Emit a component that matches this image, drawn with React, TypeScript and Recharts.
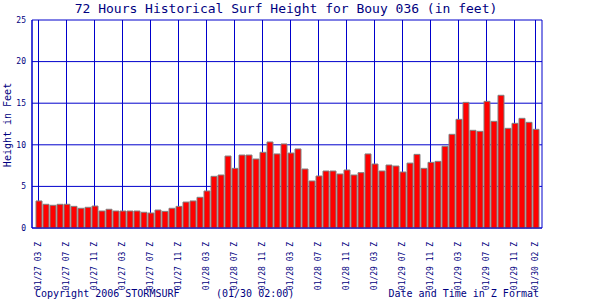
import { BarChart, Bar, XAxis, YAxis, CartesianGrid } from "recharts";

const hours = [
  "01/27 03", "01/27 04", "01/27 05", "01/27 06", "01/27 07", "01/27 08", "01/27 09",
  "01/27 10", "01/27 11", "01/27 12", "01/27 13", "01/27 14", "01/27 15", "01/27 16",
  "01/27 17", "01/27 18", "01/27 19", "01/27 20", "01/27 21", "01/27 22", "01/27 23",
  "01/28 00", "01/28 01", "01/28 02", "01/28 03", "01/28 04", "01/28 05", "01/28 06",
  "01/28 07", "01/28 08", "01/28 09", "01/28 10", "01/28 11", "01/28 12", "01/28 13",
  "01/28 14", "01/28 15", "01/28 16", "01/28 17", "01/28 18", "01/28 19", "01/28 20",
  "01/28 21", "01/28 22", "01/28 23",
  "01/29 00", "01/29 01", "01/29 02", "01/29 03", "01/29 04", "01/29 05", "01/29 06",
  "01/29 07", "01/29 08", "01/29 09", "01/29 10", "01/29 11", "01/29 12", "01/29 13",
  "01/29 14", "01/29 15", "01/29 16", "01/29 17", "01/29 18", "01/29 19", "01/29 20",
  "01/29 21", "01/29 22", "01/29 23",
  "01/30 00", "01/30 01", "01/30 02",
];

const heights = [
  3.25, 2.85, 2.73, 2.85, 2.85, 2.6, 2.37, 2.49, 2.64, 2.04, 2.25, 2.04, 2.04, 2.04, 2.04, 1.89,
  1.8, 2.16, 2.0, 2.37, 2.6, 3.12, 3.25, 3.69, 4.45, 6.21, 6.37, 8.65, 7.17, 8.77, 8.77, 8.29,
  9.1, 10.34, 8.9, 10.1, 9.01, 9.5, 7.09, 5.65, 6.25, 6.85, 6.85, 6.49, 6.97, 6.37, 6.65, 8.9,
  7.69, 6.85, 7.57, 7.45, 6.73, 7.8, 8.85, 7.17, 7.89, 8.01, 9.82, 11.26, 13.06, 15.1, 11.74,
  11.62, 15.22, 12.82, 15.95, 11.98, 12.58, 13.18, 12.7, 11.86,
];

// which hours get a tick, and the label printed there (the source uses a 12-hour clock)
const xTicks = [
  "01/27 03", "01/27 07", "01/27 11", "01/27 15", "01/27 19", "01/27 23",
  "01/28 03", "01/28 07", "01/28 11", "01/28 15", "01/28 19", "01/28 23",
  "01/29 03", "01/29 07", "01/29 11", "01/29 15", "01/29 19", "01/29 23",
  "01/30 02",
];
const xTickLabels = [
  "01/27 03 Z", "01/27 07 Z", "01/27 11 Z", "01/27 03 Z", "01/27 07 Z", "01/27 11 Z",
  "01/28 03 Z", "01/28 07 Z", "01/28 11 Z", "01/28 03 Z", "01/28 07 Z", "01/28 11 Z",
  "01/29 03 Z", "01/29 07 Z", "01/29 11 Z", "01/29 03 Z", "01/29 07 Z", "01/29 11 Z",
  "01/30 02 Z",
];

const yTicks = [0, 5, 10, 15, 20, 25];

const data = hours.map((h, i) => ({ hour: h, height: heights[i] }));

const FONT = "'DejaVu Sans Mono', monospace";
const GRID = "#0000cc";
const TEXT = "#000080";

const RotatedTick = ({ x, y, payload }: any) => {
  const label = xTickLabels[xTicks.indexOf(payload.value)] ?? payload.value;
  return (
    <text
      x={x}
      y={y + 6}
      transform={`rotate(-90 ${x} ${y + 6})`}
      textAnchor="end"
      dy="0.35em"
      fontSize={8}
      fontFamily={FONT}
      fill={TEXT}
    >
      {label}
    </text>
  );
};

export default function App() {
  return (
    <div style={{ position: "absolute", left: 0, top: 0, width: 600, height: 300, background: "#fff" }}>
      <BarChart
        width={600}
        height={300}
        data={data}
        margin={{ top: 20, right: 58, bottom: 0, left: 0 }}
      >
        <CartesianGrid yAxisId="left" stroke={GRID} strokeWidth={1} />
        <XAxis
          dataKey="hour"
          ticks={xTicks}
          interval={0}
          height={72}
          padding={{ left: 3, right: 3 }}
          tickLine={false}
          axisLine={{ stroke: GRID }}
          tick={<RotatedTick />}
        />
        <YAxis
          yAxisId="left"
          domain={[0, 25]}
          ticks={yTicks}
          width={32}
          tickLine={false}
          tickSize={0}
          tickMargin={6}
          axisLine={{ stroke: GRID }}
          tick={{ fontSize: 8, fontFamily: FONT, fill: TEXT }}
        />
        <YAxis
          yAxisId="right"
          orientation="right"
          domain={[0, 25]}
          width={0}
          tick={false}
          tickLine={false}
          axisLine={{ stroke: GRID }}
        />
        <Bar
          yAxisId="left"
          dataKey="height"
          barSize={6}
          fill="#ff0000"
          stroke="#808080"
          strokeWidth={1}
          isAnimationActive={false}
        />
      </BarChart>
      <svg
        width={600}
        height={300}
        style={{ position: "absolute", left: 0, top: 0, pointerEvents: "none" }}
        fontFamily={FONT}
        fill={TEXT}
      >
        <text x={286} y={13} textAnchor="middle" fontSize={13}>
          72 Hours Historical Surf Height for Bouy 036 (in feet)
        </text>
        <text x={11} y={125} textAnchor="middle" fontSize={10} transform="rotate(-90 11 125)">
          Height in Feet
        </text>
        <text x={35} y={297} fontSize={10}>Copyright 2006 STORMSURF</text>
        <text x={216} y={297} fontSize={10}>(01/30 02:00)</text>
        <text x={539} y={297} textAnchor="end" fontSize={10}>Date and Time in Z Format</text>
      </svg>
    </div>
  );
}
